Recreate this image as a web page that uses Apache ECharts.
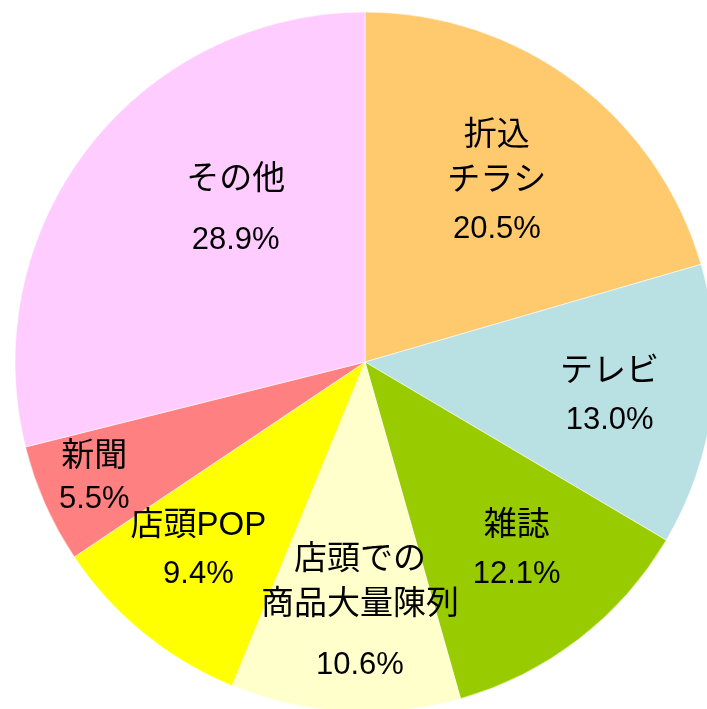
<!doctype html>
<html>
    <head>
        <meta charset="utf-8">
        <title>Pie</title>
        <style>
            html, body { margin: 0; padding: 0; background: #fff; }
            #main { width: 707px; height: 709px; }
        </style>
    </head>
    <body>
        <div id="main"></div>
        <script src="https://cdn.jsdelivr.net/npm/echarts@6/dist/echarts.min.js"></script>
        <script>
            // slices, clockwise from 12 o'clock
            var names = ['折込\nチラシ', 'テレビ', '雑誌', '店頭での\n商品大量陳列', '店頭POP', '新聞', 'その他'];
            var values = [20.5, 13.0, 12.1, 10.6, 9.4, 5.5, 28.9];
            var colors = ['#FFC96E', '#B9E0E3', '#99CC00', '#FFFFCC', '#FFFF00', '#FF8080', '#FFCCFF'];

            // label nudges away from the default inside spot
            var labelShift = [[25, -35], [68, 14], [43, 49], [5, 81], [-54, 52], [-108, 43], [11, -35]];
            var gapStyle = ['p', 'p', 'p', 'pw', 'p', 'ps', 'pw'];

            var chart = echarts.init(document.getElementById('main'));

            var cjk = '"Liberation Sans", Arial, "Noto Sans CJK JP", sans-serif';
            var num = '"Liberation Sans", Arial, sans-serif';

            chart.setOption({
                animation: false,
                series: [{
                    type: 'pie',
                    center: [365, 362],
                    radius: [0, 350],
                    startAngle: 90,
                    clockwise: true,
                    silent: true,
                    itemStyle: {
                        borderColor: 'rgba(255,255,255,0.7)',
                        borderWidth: 0.8
                    },
                    label: {
                        show: true,
                        position: 'inside',
                        rotate: 0,
                        formatter: function (p) {
                            return '{n|' + p.name + '}\n{' + gapStyle[p.dataIndex] + '|' + p.value.toFixed(1) + '%}';
                        },
                        rich: {
                            n: { fontFamily: cjk, fontSize: 33, lineHeight: 45, color: '#000', align: 'center' },
                            p: { fontFamily: num, fontSize: 31, lineHeight: 52, color: '#000', align: 'center' },
                            ps: { fontFamily: num, fontSize: 31, lineHeight: 40, color: '#000', align: 'center' },
                            pw: { fontFamily: num, fontSize: 31, lineHeight: 76, color: '#000', align: 'center' }
                        }
                    },
                    labelLine: { show: false },
                    labelLayout: function (params) {
                        var s = labelShift[params.dataIndex];
                        return { dx: s[0], dy: s[1] };
                    },
                    data: values.map(function (v, i) {
                        return { name: names[i], value: v, itemStyle: { color: colors[i] } };
                    })
                }]
            });

            window.onresize = chart.resize;
        </script>
    </body>
</html>
